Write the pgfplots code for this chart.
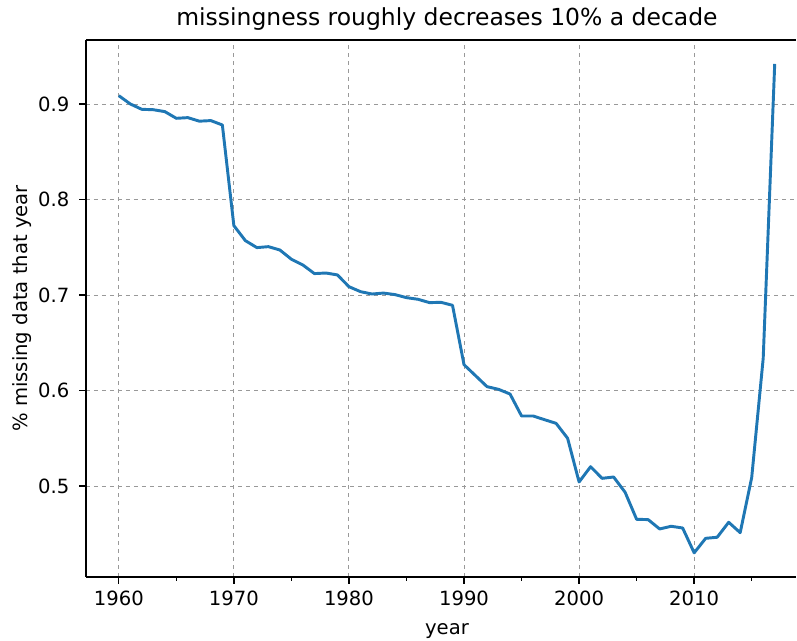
\documentclass[border=0pt]{standalone}
\usepackage{pgfplots}
\pgfplotsset{compat=1.18}
\usepackage{fontspec}
\setmainfont{DejaVu Sans}
\definecolor{mplblue}{HTML}{1F77B4}
\begin{document}
\begin{tikzpicture}
\path (-64.5pt,-48pt) rectangle (533.25pt,432.75pt);
\begin{axis}[
  at={(0,0)}, anchor=south west,
  scale only axis,
  width=532.5pt, height=402.75pt,
  xmin=1957.15, xmax=2018.85,
  ymin=0.4047, ymax=0.967,
  axis x line*=box, axis y line*=left,
  xtick={1960,1970,...,2010},
  minor xtick={1965,1975,...,2015},
  ytick={0.5,0.6,0.7,0.8,0.9},
  yticklabel style={/pgf/number format/fixed,/pgf/number format/precision=1,/pgf/number format/fixed zerofill, xshift=-3.85pt},
  xticklabel style={/pgf/number format/1000 sep={}, yshift=-1.9pt},
  /pgf/number format/assume math mode=true,
  tick label style={font=\fontsize{14.7}{17}\selectfont},
  label style={font=\fontsize{14.7}{17}\selectfont},
  title style={font=\fontsize{17.6}{20}\selectfont, at={(axis description cs:0.5,1)}, anchor=base, inner sep=0pt, yshift=4.5pt, xshift=4.5pt},
  title={missingness roughly decreases 10\% a decade},
  xlabel={year},
  ylabel={\% missing data that year},
  xlabel style={at={(axis description cs:0.5,0)}, anchor=base, inner sep=0pt, yshift=-43.5pt, xshift=4.5pt},
  ylabel style={at={(axis description cs:-0.0824,0.5)}, anchor=base, inner sep=0pt},
  tick align=outside,
  xtick pos=bottom, ytick pos=left,
  major tick length=5.1pt,
  minor tick length=2.9pt,
  every tick/.style={black, line width=1pt},
  axis line style={line width=1.1pt, -},
  grid=major,
  major grid style={dashed, color=black!40, line width=0.7pt},
]
\addplot[mplblue, line width=2.2pt, line join=round] coordinates {
(1960,0.9087) (1961,0.900) (1962,0.8944) (1963,0.894) (1964,0.892)
(1965,0.885) (1966,0.8857) (1967,0.882) (1968,0.8826) (1969,0.878)
(1970,0.7726) (1971,0.7569) (1972,0.7496) (1973,0.7506) (1974,0.7471)
(1975,0.7374) (1976,0.7314) (1977,0.7224) (1978,0.723) (1979,0.721)
(1980,0.7087) (1981,0.7035) (1982,0.701) (1983,0.702) (1984,0.7004)
(1985,0.6972) (1986,0.6955) (1987,0.692) (1988,0.6923) (1989,0.6892)
(1990,0.627) (1991,0.6155) (1992,0.604) (1993,0.6012) (1994,0.5963)
(1995,0.5733) (1996,0.5733) (1997,0.5694) (1998,0.5656) (1999,0.55)
(2000,0.5042) (2001,0.5202) (2002,0.508) (2003,0.5094) (2004,0.4934)
(2005,0.4651) (2006,0.4648) (2007,0.455) (2008,0.4578) (2009,0.456)
(2010,0.4300) (2011,0.4452) (2012,0.4463) (2013,0.462) (2014,0.4511)
(2015,0.5088) (2016,0.6337) (2017,0.9419)
};
\end{axis}
\end{tikzpicture}
\end{document}
